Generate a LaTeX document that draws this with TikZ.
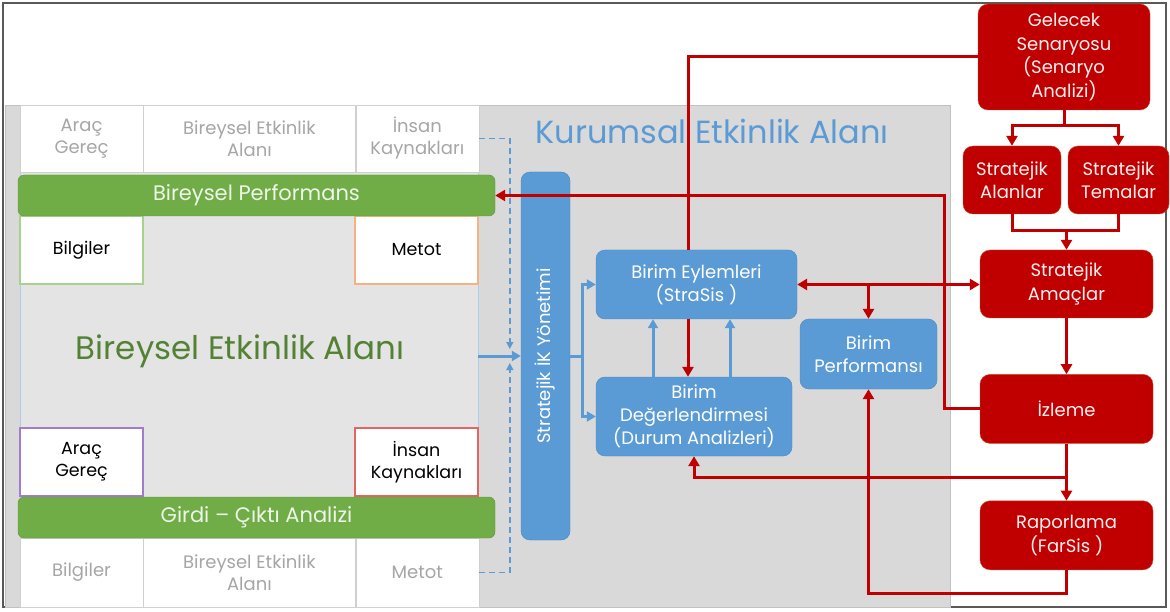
\documentclass[tikz,border=0pt]{standalone}
\usepackage{fontspec}
\setmainfont{Poppins}
\usepackage{tikz}
\usetikzlibrary{arrows.meta, positioning, calc}
\definecolor{framegray}{HTML}{595959}
\definecolor{kurumgray}{HTML}{D9D9D9}
\definecolor{bireygray}{HTML}{E4E4E4}
\definecolor{cellgray}{HTML}{A6A6A6}
\definecolor{cellline}{HTML}{D0D0D0}
\definecolor{perfgreen}{HTML}{70AD47}
\definecolor{textgreen}{HTML}{548235}
\definecolor{itemgreen}{HTML}{A9D18E}
\definecolor{itemorange}{HTML}{F4B183}
\definecolor{itempurple}{HTML}{A47BC9}
\definecolor{itemred}{HTML}{E06666}
\definecolor{stratblue}{HTML}{5B9BD5}
\definecolor{bluedark}{HTML}{4A86C0}
\definecolor{stratred}{HTML}{C00000}
\definecolor{reddark}{HTML}{C0502A}
\tikzset{
  cell/.style={
    rectangle, draw=cellline, fill=white, text=cellgray,
    minimum height=67pt, align=center,
    font=\fontsize{18}{22}\selectfont,
  },
  item/.style={
    rectangle, fill=white, line width=1.1pt, text=black,
    minimum width=123pt, minimum height=68pt, align=center,
    font=\fontsize{17.5}{22}\selectfont,
  },
  bar/.style={
    rectangle, rounded corners=6pt,
    fill=perfgreen, draw=perfgreen!85!black,
    text=white!88!perfgreen,
    minimum width=477pt, minimum height=41pt,
    font=\fontsize{21}{24}\selectfont,
  },
  bluebox/.style={
    rectangle, rounded corners=9pt,
    fill=stratblue, draw=bluedark, text=white, align=center,
    font=\fontsize{18}{23}\selectfont,
  },
  redbox/.style={
    rectangle, rounded corners=10pt,
    fill=stratred, draw=reddark, text=white!94!stratred, align=center,
    font=\fontsize{18}{23.5}\selectfont,
  },
  redline/.style={draw=stratred, line width=3pt},
  redarrow/.style={redline, -{Triangle[length=10pt,width=11pt]}},
  redboth/.style={redline, {Triangle[length=10pt,width=11pt]}-{Triangle[length=10pt,width=11pt]}},
  blueline/.style={draw=stratblue, line width=3pt},
  bluearrow/.style={blueline, -{Triangle[length=9pt,width=10pt]}},
  dashline/.style={draw=stratblue, line width=1.5pt, dash pattern=on 6pt off 4pt, -{Triangle[length=7pt,width=7pt]}},
}

\begin{document}
\begin{tikzpicture}[x=1pt, y=-1pt, node distance=0pt, every node/.style={inner sep=0pt}]
  \useasboundingbox (0,0) rectangle (1170,612);

  % Frame
  \draw[framegray, line width=1.2pt] (3,3) rectangle (1166,607);

  % Kurumsal area
  \node[rectangle, fill=kurumgray, draw=cellgray!70, minimum width=945pt, minimum height=502pt] (kurumsal) at (477.5,356) {};
  \node[text=stratblue, font=\fontsize{32}{36}\selectfont] (kurumlabel) at (712,131) {Kurumsal Etkinlik Alanı};

  % Bireysel area
  \node[rectangle, fill=bireygray, draw=stratblue!50, minimum width=458pt, minimum height=502pt] (bireysel) at (249,356) {};
  \node[text=textgreen, font=\fontsize{32.5}{36}\selectfont] (bireylabel) at (240,351) {Bireysel Etkinlik Alanı};

  % Top cells
  \node[cell, minimum width=123pt] (ustarac) at (81.5,138.5) {Araç\\Gereç};
  \node[cell, minimum width=212pt, right=of ustarac] (ustalan) {Bireysel Etkinlik\\Alanı};
  \node[cell, minimum width=123pt, right=of ustalan] (ustinsan) {İnsan\\Kaynakları};

  % Bottom cells
  \node[cell, minimum width=123pt, minimum height=69pt] (altbilgi) at (81.5,572.5) {Bilgiler};
  \node[cell, minimum width=212pt, minimum height=69pt, right=of altbilgi] (altalan) {Bireysel Etkinlik\\Alanı};
  \node[cell, minimum width=123pt, minimum height=69pt, right=of altalan] (altmetot) {Metot};

  % Corner items
  \node[item, draw=itemgreen] (bilgiler) at (81.5,250) {Bilgiler};
  \node[item, draw=itemorange] (metot) at (416.5,250) {Metot};
  \node[item, draw=itempurple] (arac) at (81.5,462) {Araç\\Gereç};
  \node[item, draw=itemred] (insan) at (416.5,462) {İnsan\\Kaynakları};

  % Green bars
  \node[bar] (bperf) at (256.5,195.5) {Bireysel Performans};
  \node[bar] (girdi) at (256.5,517.5) {Girdi – Çıktı Analizi};

  % Strategic HR bar
  \node[bluebox, minimum width=49pt, minimum height=368pt,
    label={[rotate=90, text=white, font=\fontsize{18}{20}\selectfont]center:Stratejik İK Yönetimi}] (ikbar) at (545.5,356) {};

  % Unit boxes
  \node[bluebox, minimum width=201pt, minimum height=69pt] (eylem) at (696.5,284.5) {Birim Eylemleri\\(StraSis )};
  \node[bluebox, minimum width=196pt, minimum height=79pt] (deger) at (694,416.5) {Birim\\Değerlendirmesi\\(Durum Analizleri)};
  \node[bluebox, minimum width=137pt, minimum height=70pt] (birimperf) at (868.5,354) {Birim\\Performansı};

  % Strategy chain
  \node[redbox, minimum width=172pt, minimum height=106pt] (gelecek) at (1064,57) {Gelecek\\Senaryosu\\(Senaryo\\Analizi)};
  \node[redbox, minimum width=98pt, minimum height=68pt] (alanlar) at (1012,180) {Stratejik\\Alanlar};
  \node[redbox, minimum width=101pt, minimum height=68pt] (temalar) at (1118.5,180) {Stratejik\\Temalar};
  \node[redbox, minimum width=173pt, minimum height=68pt] (amaclar) at (1066.5,284) {Stratejik\\Amaçlar};
  \node[redbox, minimum width=173pt, minimum height=69pt, below=56pt of amaclar] (izleme) {İzleme};
  \node[redbox, minimum width=173pt, minimum height=69pt, below=57pt of izleme] (rapor) {Raporlama\\(FarSis )};

  % Blue connectors
  \draw[bluearrow] (bireysel.east) -- (ikbar.west);
  \draw[dashline] (ustinsan.east) -| ([shift={(-11,-7)}]ikbar.west);
  \draw[dashline] (altmetot.east) -| ([shift={(-11,7)}]ikbar.west);
  \draw[blueline] (ikbar.east) -- ++(12,0) coordinate (ikfork);
  \draw[bluearrow] (ikfork) |- (eylem.west);
  \draw[bluearrow] (ikfork) |- (deger.west);
  \draw[bluearrow] ([xshift=-41pt]deger.north) -- ([xshift=-41pt]deger.north |- eylem.south);
  \draw[bluearrow] ([xshift=36pt]deger.north) -- ([xshift=36pt]deger.north |- eylem.south);

  % Red connectors
  \draw[redline] (gelecek.west) -| ([xshift=-8.5pt]eylem.north);
  \draw[redarrow] ([xshift=-8.5pt]eylem.south) -- ([xshift=-8.5pt]eylem.south |- deger.north);
  \draw[redarrow] (izleme.west) -- ++(-35,0) |- (bperf.east);
  \draw[redboth] (eylem.east) -- (eylem.east -| amaclar.west);
  \draw[redarrow] (birimperf.north |- eylem.east) -- (birimperf.north);
  \draw[redline] (gelecek.south) -- ++(0,15) coordinate (gfork);
  \draw[redarrow] (gfork) -| (alanlar.north);
  \draw[redarrow] (gfork) -| (temalar.north);
  \draw[redline] (alanlar.south) -- ++(0,16) coordinate (ajoin) -| (temalar.south);
  \draw[redarrow] (ajoin -| amaclar.north) -- (amaclar.north);
  \draw[redarrow] (amaclar) -- (izleme);
  \draw[redarrow] (izleme) -- (rapor);
  \draw[redline] (izleme.south) -- ++(0,34) coordinate (ifork);
  \draw[redarrow] (ifork) -| (deger.south);
  \draw[redarrow] (rapor.south) -- ++(0,23) -| (birimperf.south);

\end{tikzpicture}
\end{document}
